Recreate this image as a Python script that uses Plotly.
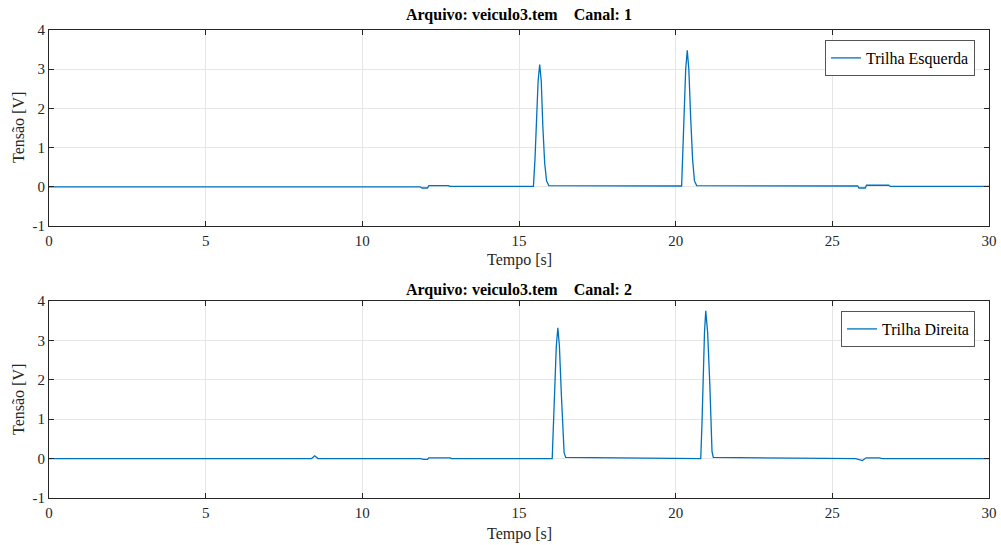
import plotly.graph_objects as go

# Canal 1 - Trilha Esquerda (tempo [s], tensão [V])
t_ch1 = [0, 11.85, 11.9, 12.08, 12.12, 12.75, 12.8,
         15.46, 15.51, 15.55, 15.61, 15.66, 15.71, 15.76, 15.82, 15.88, 15.95,
         20.19, 20.23, 20.26, 20.32, 20.37, 20.42, 20.48, 20.54, 20.60, 20.67,
         25.81, 25.85, 26.05, 26.09, 26.8, 26.85, 30]
v_ch1 = [0.0, 0.0, -0.03, -0.03, 0.03, 0.03, 0.01,
         0.01, 0.7, 1.56, 2.7, 3.12, 2.7, 1.56, 0.6, 0.15, 0.03,
         0.02, 0.8, 1.74, 3.0, 3.48, 3.0, 1.74, 0.7, 0.15, 0.03,
         0.02, -0.03, -0.03, 0.04, 0.04, 0.01, 0.01]

# Canal 2 - Trilha Direita
t_ch2 = [0, 8.38, 8.48, 8.58, 11.85, 11.95, 12.08, 12.12, 12.8, 12.85,
         16.06, 16.10, 16.13, 16.19, 16.24, 16.29, 16.35, 16.40, 16.44, 16.49,
         20.80, 20.84, 20.87, 20.92, 20.96, 21.02, 21.09, 21.13, 21.16, 21.20,
         25.75, 25.96, 26.08, 26.5, 26.6, 30]
v_ch2 = [0.0, 0.0, 0.07, 0.0, 0.0, -0.02, -0.02, 0.02, 0.02, 0.0,
         0.0, 0.8, 1.66, 2.85, 3.32, 2.85, 1.66, 0.65, 0.15, 0.03,
         0.0, 0.9, 1.88, 3.2, 3.75, 3.2, 1.88, 0.75, 0.18, 0.03,
         0.0, -0.05, 0.02, 0.02, 0.0, 0.0]

y_ticks = [-1, 0, 1, 2, 3, 4]
y_ticklabels = ['-1', '0', '1', '2', '3', '4']

titles = ['Arquivo: veiculo3.tem&nbsp;&nbsp;&nbsp;&nbsp;Canal: 1',
          'Arquivo: veiculo3.tem&nbsp;&nbsp;&nbsp;&nbsp;Canal: 2']
names = ['Trilha Esquerda', 'Trilha Direita']

FONT = 'Liberation Serif'
FS = 16
AXC = '#262626'
BLUE = '#0072BD'

# posição em pixels das áreas de plotagem
L, R, T, B = 49, 12, 30, 47
H = 545 - T - B


def py(px):
    return (545 - B - px) / H


def px_x(px):
    return (px - L) / (1001 - L - R)


fig = go.Figure()

fig.add_trace(go.Scatter(x=t_ch1, y=v_ch1, mode='lines', name=names[0],
                         line=dict(color=BLUE, width=1.3),
                         xaxis='x', yaxis='y', legend='legend'))
fig.add_trace(go.Scatter(x=t_ch2, y=v_ch2, mode='lines', name=names[1],
                         line=dict(color=BLUE, width=1.3),
                         xaxis='x2', yaxis='y2', legend='legend2'))

xax = dict(range=[0, 30], dtick=5, showgrid=True, gridcolor='#e6e6e6',
           showline=True, linecolor=AXC, linewidth=1, mirror='ticks',
           ticks='inside', ticklen=5, tickcolor=AXC, zeroline=False,
           automargin=False, ticklabelstandoff=1,
           tickfont=dict(family=FONT, size=15, color=AXC))
yax = dict(range=[-1, 4], tickvals=y_ticks, ticktext=y_ticklabels,
           showgrid=True, gridcolor='#e6e6e6',
           showline=True, linecolor=AXC, linewidth=1, mirror='ticks',
           ticks='inside', ticklen=5, tickcolor=AXC, zeroline=False,
           automargin=False,
           tickfont=dict(family=FONT, size=15, color=AXC))

leg = dict(xref='paper', yref='paper', xanchor='right', yanchor='top',
           bgcolor='white', bordercolor='#555555', borderwidth=1,
           font=dict(family=FONT, size=FS, color='black'),
           tracegroupgap=0, itemwidth=30)

fig.update_layout(
    width=1001, height=545,
    margin=dict(l=L, r=R, t=T, b=B),
    paper_bgcolor='white', plot_bgcolor='white',
    showlegend=True,
    xaxis=dict(xax, domain=[0, 1], anchor='y'),
    yaxis=dict(yax, domain=[py(226), 1.0], anchor='x'),
    xaxis2=dict(xax, domain=[0, 1], anchor='y2'),
    yaxis2=dict(yax, domain=[0.0, py(301)], anchor='x2'),
    legend=dict(leg, x=px_x(975), y=py(40)),
    legend2=dict(leg, x=px_x(975), y=py(311)),
)

for txt, ypx in zip(titles, [15, 290]):
    fig.add_annotation(text='<b>' + txt + '</b>', x=0.5, xref='paper',
                       y=py(ypx), yref='paper', showarrow=False,
                       xanchor='center', yanchor='middle',
                       font=dict(family=FONT, size=FS, color='black'))

# rótulos dos eixos
for ypx in [260, 534]:
    fig.add_annotation(text='Tempo [s]', x=0.5, xref='paper',
                       y=py(ypx), yref='paper', showarrow=False,
                       xanchor='center', yanchor='middle',
                       font=dict(family=FONT, size=FS, color=AXC))
for ypx in [128, 400]:
    fig.add_annotation(text='Tensão [V]', x=px_x(18),
                       xref='paper', y=py(ypx), yref='paper',
                       showarrow=False, textangle=-90,
                       xanchor='center', yanchor='middle',
                       font=dict(family=FONT, size=FS, color=AXC))

fig.write_html('out.html', config={'displayModeBar': False},
               post_script="document.body.style.margin='0';")
